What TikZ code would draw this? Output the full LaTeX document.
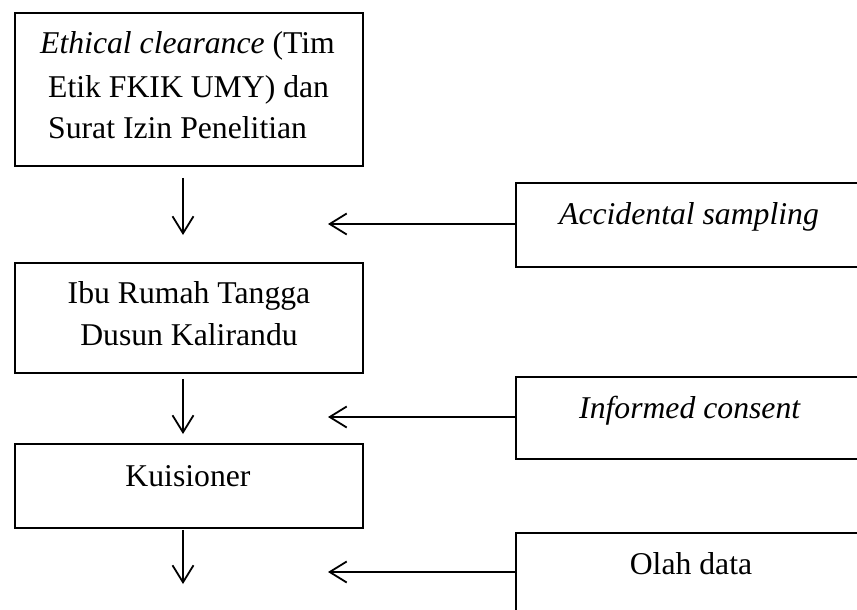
\documentclass[tikz,border=0pt]{standalone}
\usepackage{fontspec}
\setmainfont{Liberation Serif}
\usetikzlibrary{arrows.meta}
\begin{document}
\begin{tikzpicture}[x=1pt,y=-1pt,
  box/.style={draw,line width=1.8pt,inner sep=0pt},
  txt/.style={inner sep=0pt,font=\fontsize{31.7}{38}\selectfont},
  arr/.style={line width=1.8pt,-{Straight Barb[length=17pt,width=21pt,line width=1.8pt]}}]
\useasboundingbox (0,0) rectangle (857,610);
\clip (0,0) rectangle (857,610);
% left boxes
\node[box,minimum width=348pt,minimum height=153pt] (b1) at (189,89.5) {};
\node[box,minimum width=348pt,minimum height=110pt] (b2) at (189,318) {};
\node[box,minimum width=348pt,minimum height=84pt] (b3) at (189,486) {};
% right boxes (cut by the right edge)
\node[box,minimum width=364pt,minimum height=84pt] (r1) at (698,225) {};
\node[box,minimum width=364pt,minimum height=82pt] (r2) at (698,418) {};
\node[box,minimum width=364pt,minimum height=87pt] (r3) at (698,576.5) {};
% texts
\node[txt,anchor=base west] (t1a) at (40,54) {\textit{Ethical clearance} (Tim};
\node[txt,anchor=base west] (t1b) at (48,97) {Etik FKIK UMY) dan};
\node[txt,anchor=base west] (t1c) at (48,138) {Surat Izin Penelitian};
\node[txt,anchor=base] (t2a) at (189,303) {Ibu Rumah Tangga};
\node[txt,anchor=base] (t2b) at (189,345) {Dusun Kalirandu};
\node[txt,anchor=base] (t3) at (188,486) {Kuisioner};
\node[txt,anchor=base] (u1) at (689,224) {\textit{Accidental sampling}};
\node[txt,anchor=base] (u2) at (690,418) {\textit{Informed consent}};
\node[txt,anchor=base] (u3) at (691,574) {Olah data};
% arrow end points
\coordinate (v1) at (183,235);
\coordinate (v2) at (183,434);
\coordinate (v3) at (183,584);
\coordinate (h1) at (328,224);
\coordinate (h2) at (328,417);
\coordinate (h3) at (328,572);
% vertical arrows
\draw[arr,shorten <=11pt] (b1.south -| v1) -- (v1);
\draw[arr,shorten <=5pt] (b2.south -| v2) -- (v2);
\draw[arr,shorten <=1pt] (b3.south -| v3) -- (v3);
% horizontal arrows
\draw[arr] (r1.west |- h1) -- (h1);
\draw[arr] (r2.west |- h2) -- (h2);
\draw[arr] (r3.west |- h3) -- (h3);
\end{tikzpicture}
\end{document}
